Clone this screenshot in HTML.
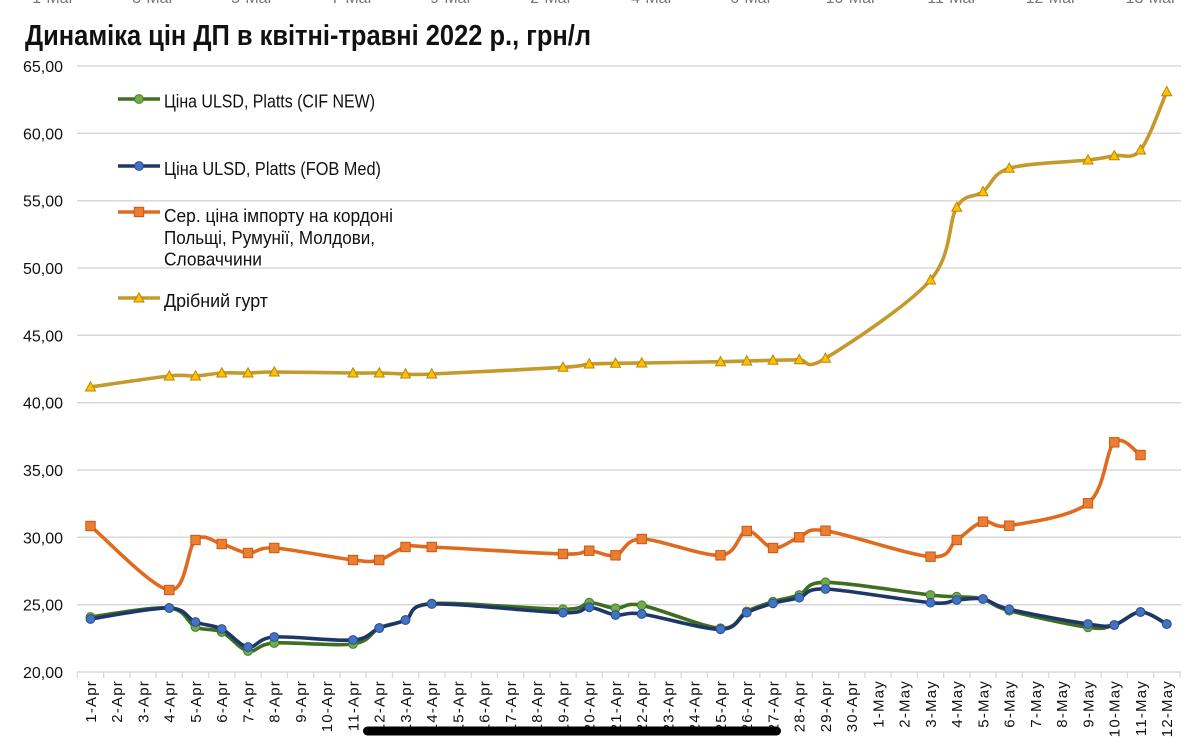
<!DOCTYPE html>
<html>
<head>
<meta charset="utf-8">
<style>
  html,body{margin:0;padding:0;background:#fff;}
  svg{display:block;}
  text{font-family:"Liberation Sans","Noto Sans CJK SC",sans-serif;}
</style>
</head>
<body>
<svg id="chart" width="1200" height="752" viewBox="0 0 1200 752" xmlns="http://www.w3.org/2000/svg">
  <defs>
    <marker id="mg" markerUnits="userSpaceOnUse" markerWidth="14" markerHeight="14" refX="7" refY="7" orient="0" overflow="visible">
      <circle cx="7" cy="7" r="4.4" fill="#70AD47" stroke="#4a7a2c" stroke-width="1"/>
    </marker>
    <marker id="mb" markerUnits="userSpaceOnUse" markerWidth="14" markerHeight="14" refX="7" refY="7" orient="0" overflow="visible">
      <circle cx="7" cy="7" r="4.4" fill="#4472C4" stroke="#2a4f8f" stroke-width="1"/>
    </marker>
    <marker id="mo" markerUnits="userSpaceOnUse" markerWidth="14" markerHeight="14" refX="7" refY="7" orient="0" overflow="visible">
      <rect x="2.3" y="2.3" width="9.4" height="9.4" fill="#ED7D31" stroke="#c55a11" stroke-width="1"/>
    </marker>
    <marker id="my" markerUnits="userSpaceOnUse" markerWidth="14" markerHeight="14" refX="7" refY="7" orient="0" overflow="visible">
      <polygon points="7,1.8 12,11 2,11" fill="#FFC000" stroke="#b8860b" stroke-width="1"/>
    </marker>
  </defs>

  <!-- cropped fragments at the very top -->
  <g font-size="16" fill="#777" text-anchor="middle">
    <text x="53" y="3">1-Mar</text>
    <text x="153" y="3">3-Mar</text>
    <text x="252" y="3">5-Mar</text>
    <text x="352" y="3">7-Mar</text>
    <text x="451" y="3">9-Mar</text>
    <text x="551" y="3">2-Mar</text>
    <text x="652" y="3">4-Mar</text>
    <text x="751" y="3">6-Mar</text>
    <text x="851" y="3">10-Mar</text>
    <text x="952" y="3">11-Mar</text>
    <text x="1051" y="3">12-Mar</text>
    <text x="1151" y="3">13-Mar</text>
  </g>

  <!-- title -->
  <text x="25" y="45" font-size="29" font-weight="bold" fill="#111" textLength="566" lengthAdjust="spacingAndGlyphs">Динаміка цін ДП в квітні-травні 2022 р., грн/л</text>

  <!-- gridlines -->
  <g stroke="#d9d9d9" stroke-width="1.5">
    <line x1="77" y1="66" x2="1181" y2="66"/>
    <line x1="77" y1="133.3" x2="1181" y2="133.3"/>
    <line x1="77" y1="200.7" x2="1181" y2="200.7"/>
    <line x1="77" y1="268" x2="1181" y2="268"/>
    <line x1="77" y1="335.3" x2="1181" y2="335.3"/>
    <line x1="77" y1="402.7" x2="1181" y2="402.7"/>
    <line x1="77" y1="470" x2="1181" y2="470"/>
    <line x1="77" y1="537.3" x2="1181" y2="537.3"/>
    <line x1="77" y1="604.7" x2="1181" y2="604.7"/>
    <line x1="77" y1="672" x2="1181" y2="672"/>
  </g>
  <!-- ticks -->
  <path stroke="#d9d9d9" stroke-width="1.3" fill="none" d="M77.4 672V678M103.65 672V678M129.9 672V678M156.15 672V678M182.4 672V678M208.65 672V678M234.9 672V678M261.15 672V678M287.4 672V678M313.65 672V678M339.9 672V678M366.15 672V678M392.4 672V678M418.65 672V678M444.9 672V678M471.15 672V678M497.4 672V678M523.65 672V678M549.9 672V678M576.15 672V678M602.4 672V678M628.65 672V678M654.9 672V678M681.15 672V678M707.4 672V678M733.65 672V678M759.9 672V678M786.15 672V678M812.4 672V678M838.65 672V678M864.9 672V678M891.15 672V678M917.4 672V678M943.65 672V678M969.9 672V678M996.15 672V678M1022.4 672V678M1048.65 672V678M1074.9 672V678M1101.15 672V678M1127.4 672V678M1153.65 672V678M1179.9 672V678"/>

  <!-- y labels -->
  <g font-size="16" fill="#111" text-anchor="end">
    <text x="63" y="72">65,00</text>
    <text x="63" y="139.3">60,00</text>
    <text x="63" y="206.7">55,00</text>
    <text x="63" y="274">50,00</text>
    <text x="63" y="341.3">45,00</text>
    <text x="63" y="408.7">40,00</text>
    <text x="63" y="476">35,00</text>
    <text x="63" y="543.3">30,00</text>
    <text x="63" y="610.7">25,00</text>
    <text x="63" y="678">20,00</text>
  </g>

  <!-- x labels -->
  <g font-size="15" fill="#111" text-anchor="end" letter-spacing="1.2">
    <text transform="translate(95.9,680) rotate(-90)">1-Apr</text>
    <text transform="translate(122.15,680) rotate(-90)">2-Apr</text>
    <text transform="translate(148.4,680) rotate(-90)">3-Apr</text>
    <text transform="translate(174.65,680) rotate(-90)">4-Apr</text>
    <text transform="translate(200.9,680) rotate(-90)">5-Apr</text>
    <text transform="translate(227.15,680) rotate(-90)">6-Apr</text>
    <text transform="translate(253.4,680) rotate(-90)">7-Apr</text>
    <text transform="translate(279.65,680) rotate(-90)">8-Apr</text>
    <text transform="translate(305.9,680) rotate(-90)">9-Apr</text>
    <text transform="translate(332.15,680) rotate(-90)">10-Apr</text>
    <text transform="translate(358.4,680) rotate(-90)">11-Apr</text>
    <text transform="translate(384.65,680) rotate(-90)">12-Apr</text>
    <text transform="translate(410.9,680) rotate(-90)">13-Apr</text>
    <text transform="translate(437.15,680) rotate(-90)">14-Apr</text>
    <text transform="translate(463.4,680) rotate(-90)">15-Apr</text>
    <text transform="translate(489.65,680) rotate(-90)">16-Apr</text>
    <text transform="translate(515.9,680) rotate(-90)">17-Apr</text>
    <text transform="translate(542.15,680) rotate(-90)">18-Apr</text>
    <text transform="translate(568.4,680) rotate(-90)">19-Apr</text>
    <text transform="translate(594.65,680) rotate(-90)">20-Apr</text>
    <text transform="translate(620.9,680) rotate(-90)">21-Apr</text>
    <text transform="translate(647.15,680) rotate(-90)">22-Apr</text>
    <text transform="translate(673.4,680) rotate(-90)">23-Apr</text>
    <text transform="translate(699.65,680) rotate(-90)">24-Apr</text>
    <text transform="translate(725.9,680) rotate(-90)">25-Apr</text>
    <text transform="translate(752.15,680) rotate(-90)">26-Apr</text>
    <text transform="translate(778.4,680) rotate(-90)">27-Apr</text>
    <text transform="translate(804.65,680) rotate(-90)">28-Apr</text>
    <text transform="translate(830.9,680) rotate(-90)">29-Apr</text>
    <text transform="translate(857.15,680) rotate(-90)">30-Apr</text>
    <text transform="translate(883.4,680) rotate(-90)">1-May</text>
    <text transform="translate(909.65,680) rotate(-90)">2-May</text>
    <text transform="translate(935.9,680) rotate(-90)">3-May</text>
    <text transform="translate(962.15,680) rotate(-90)">4-May</text>
    <text transform="translate(988.4,680) rotate(-90)">5-May</text>
    <text transform="translate(1014.65,680) rotate(-90)">6-May</text>
    <text transform="translate(1040.9,680) rotate(-90)">7-May</text>
    <text transform="translate(1067.15,680) rotate(-90)">8-May</text>
    <text transform="translate(1093.4,680) rotate(-90)">9-May</text>
    <text transform="translate(1119.65,680) rotate(-90)">10-May</text>
    <text transform="translate(1145.9,680) rotate(-90)">11-May</text>
    <text transform="translate(1172.15,680) rotate(-90)">12-May</text>
  </g>

  <!-- series -->
  <g fill="none" stroke-width="3.6" stroke-linejoin="round" stroke-linecap="round">
    <path class="smooth" stroke="#3e6e22" marker-start="url(#mg)" marker-mid="url(#mg)" marker-end="url(#mg)"
      d="M90.5,617 L169.25,608 L195.5,627 L221.75,632 L248,651 L274.25,643 L353,644 L379.25,628 L405.5,620 L431.75,603.5 L563,609.3 L589.25,602.7 L615.5,608.3 L641.75,605.3 L720.5,628.3 L746.75,611.5 L773,601.7 L799.25,595 L825.5,582.3 L930.5,595 L956.75,596.7 L983,599 L1009.25,610.7 L1088,627.3 L1114.25,625 L1140.5,612 L1166.75,624"/>
    <path class="smooth" stroke="#1d3866" marker-start="url(#mb)" marker-mid="url(#mb)" marker-end="url(#mb)"
      d="M90.5,619 L169.25,608 L195.5,622 L221.75,629 L248,647 L274.25,637 L353,640 L379.25,628 L405.5,620 L431.75,604 L563,612.7 L589.25,607.3 L615.5,615 L641.75,614 L720.5,629.3 L746.75,612.7 L773,603.3 L799.25,597.7 L825.5,589 L930.5,602.7 L956.75,600 L983,599 L1009.25,609.3 L1088,624 L1114.25,625 L1140.5,612 L1166.75,624"/>
    <path class="smooth" stroke="#e06b1f" marker-start="url(#mo)" marker-mid="url(#mo)" marker-end="url(#mo)"
      d="M90.5,526 L169.25,590 L195.5,540 L221.75,544 L248,553 L274.25,548 L353,560 L379.25,560 L405.5,547 L431.75,547 L563,554 L589.25,550.7 L615.5,555.3 L641.75,539 L720.5,555.3 L746.75,531 L773,548 L799.25,537.3 L825.5,530.7 L930.5,556.7 L956.75,540 L983,521.7 L1009.25,525.7 L1088,503.3 L1114.25,442.3 L1140.5,455"/>
    <path class="smooth" stroke="#c49a2c" marker-start="url(#my)" marker-mid="url(#my)" marker-end="url(#my)"
      d="M90.5,387 L169.25,376 L195.5,376 L221.75,373 L248,373 L274.25,372 L353,373 L379.25,373 L405.5,374 L431.75,374 L563,367.3 L589.25,364 L615.5,363.3 L641.75,363 L720.5,361.7 L746.75,361 L773,360.3 L799.25,359.7 L825.5,358.3 L930.5,280 L956.75,207.3 L983,191.7 L1009.25,168.3 L1088,160 L1114.25,155.7 L1140.5,150 L1166.75,91.7"/>
  </g>

  <!-- legend -->
  <g fill="none" stroke-width="3.6">
    <path stroke="#3e6e22" marker-mid="url(#mg)" d="M118,99 L139,99 L160,99"/>
    <path stroke="#1d3866" marker-mid="url(#mb)" d="M118,166 L139,166 L160,166"/>
    <path stroke="#e06b1f" marker-mid="url(#mo)" d="M118,212 L139,212 L160,212"/>
    <path stroke="#c49a2c" marker-mid="url(#my)" d="M118,298 L139,298 L160,298"/>
  </g>
  <g font-size="18" fill="#111">
    <text x="164" y="107.5" textLength="211" lengthAdjust="spacingAndGlyphs">Ціна ULSD, Platts (CIF NEW)</text>
    <text x="164" y="175" textLength="217" lengthAdjust="spacingAndGlyphs">Ціна ULSD, Platts (FOB Med)</text>
    <text x="164" y="222" textLength="229" lengthAdjust="spacingAndGlyphs">Сер. ціна імпорту на кордоні</text>
    <text x="164" y="244" textLength="211" lengthAdjust="spacingAndGlyphs">Польщі, Румунії, Молдови,</text>
    <text x="164" y="265.5" textLength="98" lengthAdjust="spacingAndGlyphs">Словаччини</text>
    <text x="164" y="307" textLength="104" lengthAdjust="spacingAndGlyphs">Дрібний гурт</text>
  </g>

  <!-- black redaction bar -->
  <rect x="363" y="726.5" width="418" height="9" rx="4.5" ry="4.5" fill="#000"/>
</svg>
<script>
(function(){
  var paths = document.querySelectorAll('path.smooth');
  for (var k=0;k<paths.length;k++){
    var p = paths[k];
    var d = p.getAttribute('d');
    var nums = d.match(/-?\d+(\.\d+)?/g).map(Number);
    var pts = [];
    for (var i=0;i<nums.length;i+=2) pts.push([nums[i],nums[i+1]]);
    var n = pts.length;
    var s = 'M'+pts[0][0]+','+pts[0][1];
    for (var i=0;i<n-1;i++){
      var p0 = pts[Math.max(0,i-1)], p1 = pts[i], p2 = pts[i+1], p3 = pts[Math.min(n-1,i+2)];
      var c1x = p1[0] + (p2[0]-p0[0])/6, c1y = p1[1] + (p2[1]-p0[1])/6;
      var c2x = p2[0] - (p3[0]-p1[0])/6, c2y = p2[1] - (p3[1]-p1[1])/6;
      s += ' C'+c1x.toFixed(2)+','+c1y.toFixed(2)+' '+c2x.toFixed(2)+','+c2y.toFixed(2)+' '+p2[0]+','+p2[1];
    }
    p.setAttribute('d', s);
  }
})();
</script>
</body>
</html>
